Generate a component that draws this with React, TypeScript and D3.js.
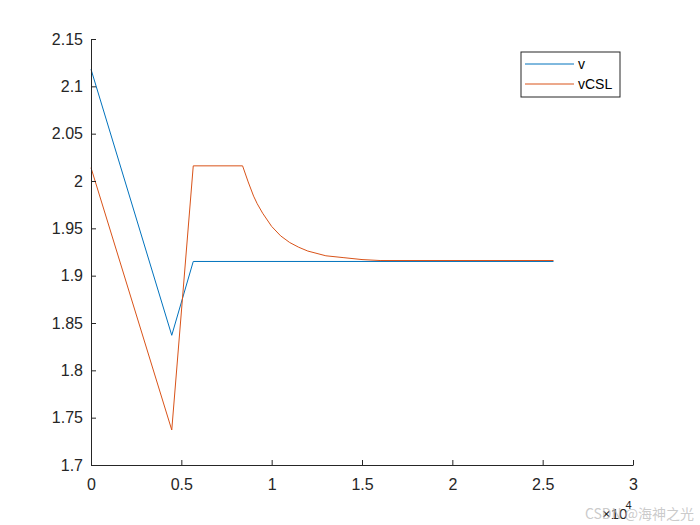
import { useEffect, useRef } from 'react';
import * as d3 from 'd3';

// x values are in units of 10^4
const vX = [0, 0.447, 0.566, 2.56];
const vY = [2.118, 1.837, 1.915, 1.915];

const cslX = [0, 0.447, 0.566, 0.839, 0.87, 0.9, 0.92, 0.95, 1.0, 1.05, 1.1, 1.15, 1.2, 1.3, 1.4, 1.5, 1.6, 2.56];
const cslY = [2.014, 1.737, 2.016, 2.016, 1.999, 1.984, 1.976, 1.966, 1.952, 1.942, 1.935, 1.93, 1.926, 1.921, 1.919, 1.917, 1.916, 1.916];

const xTicks = [0, 0.5, 1, 1.5, 2, 2.5, 3];
const yTicks = [1.7, 1.75, 1.8, 1.85, 1.9, 1.95, 2, 2.05, 2.1, 2.15];

const seriesNames = ['v', 'vCSL'];
const seriesColors = ['#0072BD', '#D95319'];

export default function App() {
  const svgRef = useRef<SVGSVGElement>(null);

  useEffect(() => {
    document.body.style.margin = '0';
    if (!svgRef.current) return;
    const svg = d3.select(svgRef.current);
    svg.selectAll('*').remove();

    const width = 700;
    const height = 525;
    const margin = { top: 39, right: 67, bottom: 60, left: 91 };
    const innerWidth = width - margin.left - margin.right;
    const innerHeight = height - margin.top - margin.bottom;
    const font = 'Liberation Sans, Arial, sans-serif';
    const axisColor = '#262626';

    svg.append('rect').attr('width', width).attr('height', height).attr('fill', '#fff');

    const g = svg.append('g').attr('transform', `translate(${margin.left},${margin.top})`);

    const x = d3.scaleLinear().domain([0, 3]).range([0, innerWidth]);
    const y = d3.scaleLinear().domain([1.7, 2.15]).range([innerHeight, 0]);

    // lines
    const line = d3.line<[number, number]>()
      .x(d => x(d[0]))
      .y(d => y(d[1]));

    const series: [number, number][][] = [
      vX.map((d, i) => [d, vY[i]]),
      cslX.map((d, i) => [d, cslY[i]]),
    ];

    series.forEach((s, i) => {
      g.append('path')
        .datum(s)
        .attr('fill', 'none')
        .attr('stroke', seriesColors[i])
        .attr('stroke-width', 1)
        .attr('d', line);
    });

    // X axis (ticks inward)
    const xAxis = g.append('g')
      .attr('transform', `translate(0,${innerHeight})`)
      .call(d3.axisBottom(x).tickValues(xTicks).tickSizeInner(-5).tickSizeOuter(0).tickPadding(10)
        .tickFormat(d => d3.format('~g')(d as number)));
    xAxis.select('.domain').attr('stroke', axisColor);
    xAxis.selectAll('line').attr('stroke', axisColor);
    xAxis.selectAll('text')
      .style('font-family', font)
      .style('font-size', '16px')
      .attr('fill', axisColor)
      .attr('dy', '0.71em')
      .attr('y', 14);

    // Y axis (ticks inward)
    const yAxis = g.append('g')
      .call(d3.axisLeft(y).tickValues(yTicks).tickSizeInner(-5).tickSizeOuter(0).tickPadding(8)
        .tickFormat(d => d3.format('~g')(d as number)));
    yAxis.select('.domain').attr('stroke', axisColor);
    yAxis.selectAll('line').attr('stroke', axisColor);
    yAxis.selectAll('text')
      .style('font-family', font)
      .style('font-size', '16px')
      .attr('fill', axisColor)
      .attr('x', -8);

    // exponent label
    const expLabel = svg.append('text')
      .attr('x', 602)
      .attr('y', 519)
      .style('font-family', font)
      .style('font-size', '15px')
      .attr('fill', axisColor);
    expLabel.append('tspan').text('×10');
    expLabel.append('tspan').attr('dy', -10).attr('dx', -2).style('font-size', '11px').text('4');

    // watermark
    svg.append('text')
      .attr('x', 694)
      .attr('y', 519)
      .attr('text-anchor', 'end')
      .style('font-family', 'Noto Sans CJK SC, sans-serif')
      .style('font-size', '14px')
      .attr('fill', '#bdbdbd')
      .attr('fill-opacity', 0.8)
      .text('CSDN @海神之光');

    // legend
    const legend = svg.append('g').attr('transform', 'translate(521,52)');
    legend.append('rect')
      .attr('width', 99)
      .attr('height', 45)
      .attr('fill', '#fff')
      .attr('stroke', axisColor)
      .attr('stroke-width', 1);

    seriesNames.forEach((name, i) => {
      const ly = 12 + i * 20;
      legend.append('line')
        .attr('x1', 4)
        .attr('x2', 53)
        .attr('y1', ly)
        .attr('y2', ly)
        .attr('stroke', seriesColors[i])
        .attr('stroke-width', 1);
      legend.append('text')
        .attr('x', 57)
        .attr('y', ly + 5)
        .style('font-family', font)
        .style('font-size', '14px')
        .attr('fill', '#000')
        .text(name);
    });
  }, []);

  return (
    <div>
      <svg ref={svgRef} width="700" height="525" style={{ display: 'block' }}></svg>
    </div>
  );
}
